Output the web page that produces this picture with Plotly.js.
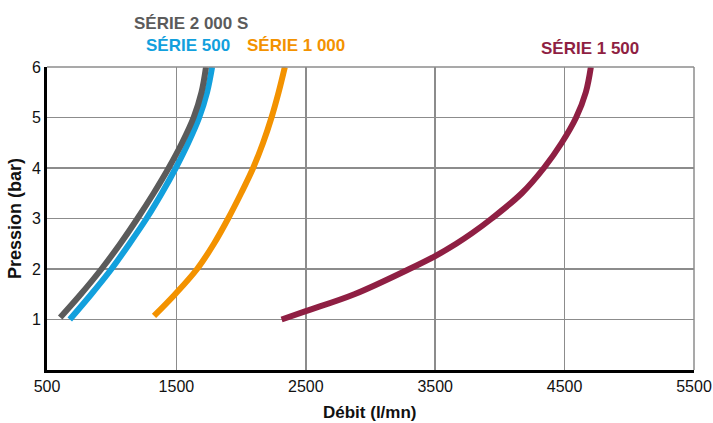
<!DOCTYPE html>
<html><head><meta charset="utf-8">
<script src="https://cdn.plot.ly/plotly-3.0.1.min.js"></script>
<style>html,body{margin:0;padding:0;background:#fff}#chart{width:713px;height:423px}</style>
</head><body><div id="chart"></div>
<script>
// Data: débit (l/mn) vs pression (bar)
const serie2000S_x = [602, 761, 921, 1066, 1199, 1324, 1440, 1544, 1633, 1694, 1729];
const serie2000S_y = [1.04, 1.5, 2, 2.5, 3, 3.5, 4, 4.5, 5, 5.5, 6];
const serie500_x = [676, 842, 998, 1137, 1269, 1387, 1495, 1592, 1676, 1737, 1776];
const serie500_y = [1.0, 1.5, 2, 2.5, 3, 3.5, 4, 4.5, 5, 5.5, 6];
const serie1000_x = [1327, 1490, 1660, 1790, 1900, 2000, 2093, 2170, 2235, 2290, 2338];
const serie1000_y = [1.07, 1.5, 2, 2.5, 3, 3.5, 4, 4.5, 5, 5.5, 6];
const serie1500_x = [2313, 2500, 2875, 3300, 3500, 3662, 3785, 3937, 4169, 4340, 4478, 4589, 4664, 4703];
const serie1500_y = [1.0, 1.165, 1.5, 2, 2.256, 2.5, 2.71, 3, 3.5, 4, 4.5, 5, 5.5, 6];
const xTicks = [500, 1500, 2500, 3500, 4500, 5500];
const yTicks = [1, 2, 3, 4, 5, 6];
const seriesNames = ["SÉRIE 2 000 S", "SÉRIE 500", "SÉRIE 1 000", "SÉRIE 1 500"];

const FONT = '"Liberation Sans", Arial, sans-serif';
const colors = ['#5b5b5b', '#12a0dd', '#f39200', '#8f1f43'];
const mk = (x, y, i) => ({x, y, type: 'scatter', mode: 'lines', name: seriesNames[i],
  line: {color: colors[i], width: 6, shape: 'spline', smoothing: 1}, hoverinfo: 'skip'});
const data = [
  mk(serie1500_x, serie1500_y, 3),
  mk(serie1000_x, serie1000_y, 2),
  mk(serie500_x, serie500_y, 1),
  mk(serie2000S_x, serie2000S_y, 0)
];

const L = 47, R = 694, T = 67, B = 370, W = 713, H = 423;
const px = v => (v - L) / (R - L);
const py = v => (B - v) / (B - T);
const lab = (text, x, y, color) => ({text: '<b>' + text + '</b>', x: px(x), y: py(y), xref: 'paper', yref: 'paper',
  showarrow: false, xanchor: 'center', yanchor: 'middle', font: {family: FONT, size: 17, color}});

const layout = {
  width: W, height: H,
  margin: {l: L, r: W - R, t: T, b: H - B},
  paper_bgcolor: '#fff', plot_bgcolor: '#fff',
  showlegend: false,
  xaxis: {range: [500, 5500], tickvals: xTicks, ticktext: xTicks.map(String), showgrid: true,
    gridcolor: '#8c8c8c', gridwidth: 1.5, zeroline: false, showline: true, linecolor: '#000', linewidth: 3,
    ticks: '', tickfont: {family: FONT, size: 16, color: '#111'}, fixedrange: true},
  yaxis: {range: [0, 6], tickvals: yTicks, ticktext: yTicks.map(String), showgrid: true,
    gridcolor: '#8c8c8c', gridwidth: 1.5, zeroline: false, showline: true, linecolor: '#000', linewidth: 3,
    ticks: '', tickfont: {family: FONT, size: 16, color: '#111'}, fixedrange: true},
  shapes: [
    {type: 'line', xref: 'paper', yref: 'paper', x0: 1, x1: 1, y0: 0, y1: 1, line: {color: '#8c8c8c', width: 1.5}},
    {type: 'line', xref: 'paper', yref: 'paper', x0: 0, x1: 1, y0: 1, y1: 1, line: {color: '#8c8c8c', width: 1.5}}
  ],
  annotations: [
    lab(seriesNames[0], 191, 24, colors[0]),
    lab(seriesNames[1], 188, 45, colors[1]),
    lab(seriesNames[2], 296, 45, colors[2]),
    lab(seriesNames[3], 590, 49, colors[3]),
    {text: '<b>Débit (l/mn)</b>', x: px(370), y: py(412), xref: 'paper', yref: 'paper', showarrow: false,
      xanchor: 'center', yanchor: 'middle', font: {family: FONT, size: 17, color: '#111'}},
    {text: '<b>Pression (bar)</b>', x: px(15), y: py(219), xref: 'paper', yref: 'paper', showarrow: false,
      textangle: -90, xanchor: 'center', yanchor: 'middle', font: {family: FONT, size: 18, color: '#111'}}
  ]
};
Plotly.newPlot('chart', data, layout, {displayModeBar: false, staticPlot: true});
</script></body></html>
